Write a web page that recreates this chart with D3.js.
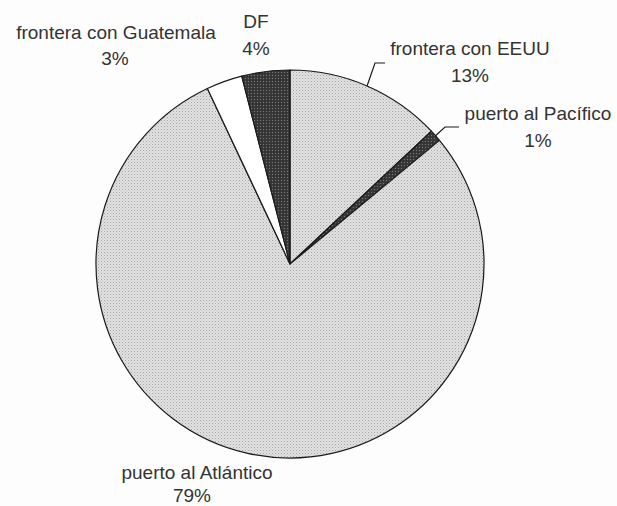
<!DOCTYPE html>
<html>
<head>
<meta charset="utf-8">
<script src="https://cdn.jsdelivr.net/npm/d3@7"></script>
<style>
  html, body { margin: 0; padding: 0; background: #fdfdfd; }
  svg { display: block; }
</style>
</head>
<body>
<svg id="chart" width="617" height="506"></svg>
<script>
// Destinos (porcentaje del total), en el orden en que se dibujan desde las 12 en punto
const categories = ["frontera con EEUU", "puerto al Pacífico", "puerto al Atlántico", "frontera con Guatemala", "DF"];
const values = [13, 1, 79, 3, 4];
const valueLabels = ["13%", "1%", "79%", "3%", "4%"];

// Relleno de cada sector
const fillKind = ["light", "dark", "light", "white", "dark"];

// Ubicación de las etiquetas (centro x, línea base de la primera línea)
const labelX = [470, 538, 197, 116, 256];
const labelY = [55, 120, 479, 39, 28];
const percentDX = [0, 0, -5, -1, 0];
const percentDY = [27, 27, 23, 26, 27];
// Líneas guía: codo y extremo (null = sin línea)
const leaderElbow = [[375, 63], [445, 127], null, null, null];
const leaderEnd = [[385, 63], [459, 127], null, null, null];

const W = 617, H = 506;
const cx = 290, cy = 264, R = 194;

const svg = d3.select("#chart");

// Texturas punteadas de los sectores
const defs = svg.append("defs");
const light = defs.append("pattern").attr("id", "pat-light")
  .attr("width", 3).attr("height", 3).attr("patternUnits", "userSpaceOnUse");
light.append("rect").attr("width", 3).attr("height", 3).attr("fill", "#e2e2e2");
light.append("rect").attr("x", 0).attr("y", 0).attr("width", 1).attr("height", 1).attr("fill", "#a4a4a4");
light.append("rect").attr("x", 1.5).attr("y", 1.5).attr("width", 1).attr("height", 1).attr("fill", "#bbbbbb");

const dark = defs.append("pattern").attr("id", "pat-dark")
  .attr("width", 3).attr("height", 3).attr("patternUnits", "userSpaceOnUse");
dark.append("rect").attr("width", 3).attr("height", 3).attr("fill", "#3a3a3a");
dark.append("rect").attr("x", 0).attr("y", 0).attr("width", 1).attr("height", 1).attr("fill", "#777");
dark.append("rect").attr("x", 1.5).attr("y", 1.5).attr("width", 1).attr("height", 1).attr("fill", "#222");

const fillFor = { light: "url(#pat-light)", dark: "url(#pat-dark)", white: "#ffffff" };

const data = categories.map((c, i) => ({ name: c, value: values[i], i }));

const pie = d3.pie().value(d => d.value).sort(null).startAngle(0).endAngle(2 * Math.PI);
const arcs = pie(data);
const arc = d3.arc().innerRadius(0).outerRadius(R);

const g = svg.append("g").attr("transform", `translate(${cx},${cy})`);

g.selectAll("path.slice")
  .data(arcs)
  .join("path")
  .attr("class", "slice")
  .attr("d", arc)
  .attr("fill", d => fillFor[fillKind[d.data.i]])
  .attr("stroke", "#1a1a1a")
  .attr("stroke-width", 1.2)
  .attr("stroke-linejoin", "round");

// Líneas guía desde el borde del sector hasta la etiqueta
arcs.forEach(d => {
  const i = d.data.i;
  if (!leaderElbow[i]) return;
  const mid = (d.startAngle + d.endAngle) / 2;
  const x0 = cx + R * Math.sin(mid), y0 = cy - R * Math.cos(mid);
  svg.append("polyline")
    .attr("points", [[x0, y0], leaderElbow[i], leaderEnd[i]].map(p => p.join(",")).join(" "))
    .attr("fill", "none")
    .attr("stroke", "#1a1a1a")
    .attr("stroke-width", 1.2);
});

// Etiquetas: nombre y porcentaje
const labels = svg.append("g")
  .attr("font-family", "'Liberation Sans', Arial, sans-serif")
  .attr("font-size", 19)
  .attr("fill", "#333")
  .attr("text-anchor", "middle");

arcs.forEach(d => {
  const i = d.data.i;
  labels.append("text").attr("x", labelX[i]).attr("y", labelY[i]).text(categories[i]);
  labels.append("text").attr("x", labelX[i] + percentDX[i]).attr("y", labelY[i] + percentDY[i]).text(valueLabels[i]);
});
</script>
</body>
</html>
